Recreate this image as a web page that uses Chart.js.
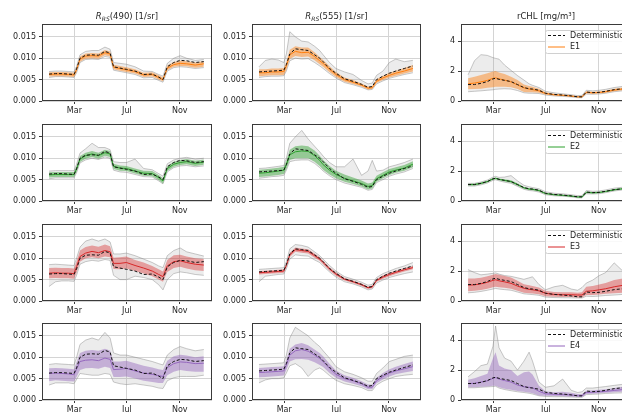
<!DOCTYPE html>
<html>
<head>
<meta charset="utf-8">
<script src="https://cdn.jsdelivr.net/npm/chart.js@4"></script>
<style>
  html, body { margin: 0; padding: 0; background: #fff; overflow: hidden; width: 622px; height: 412px; }
  .panel { position: absolute; }
</style>
</head>
<body>
<script>
// day of year for every sample
const G = [0, 15, 30, 45, 58, 64, 72, 85, 100, 115, 130, 142, 150, 165, 180, 200, 220, 240, 255, 265, 275, 290, 305, 320, 340, 360];
const monthTicks = [59, 181, 304];
const monthLabels = ['Mar', 'Jul', 'Nov'];
const rrsTicks = [0, 0.005, 0.010, 0.015];
const chlTicks = [0, 2, 4];

// deterministic runs
const det490 = [0.0063,0.0064,0.0064,0.0063,0.0062,0.0075,0.0100,0.0107,0.0108,0.0107,0.0116,0.0112,0.0080,0.0077,0.0074,0.0070,0.0062,0.0063,0.0056,0.0050,0.0080,0.0090,0.0095,0.0094,0.0090,0.0092];
const det555 = [0.0068,0.0069,0.0070,0.0071,0.0072,0.0085,0.0110,0.0122,0.0120,0.0118,0.0108,0.0100,0.0092,0.0076,0.0065,0.0052,0.0046,0.0039,0.0032,0.0034,0.0050,0.0058,0.0065,0.0070,0.0076,0.0082];
const detChl = [1.10,1.10,1.18,1.30,1.48,1.52,1.45,1.38,1.30,1.10,0.90,0.82,0.80,0.72,0.52,0.44,0.40,0.34,0.28,0.28,0.60,0.56,0.58,0.65,0.76,0.82];

// Rrs(490) ensembles
const r490E1Mean = [0.0062,0.0063,0.0063,0.0062,0.0061,0.0073,0.0098,0.0105,0.0106,0.0105,0.0113,0.0110,0.0079,0.0076,0.0073,0.0069,0.0061,0.0062,0.0055,0.0050,0.0077,0.0085,0.0088,0.0087,0.0084,0.0087];
const r490E1Lo   = [0.0057,0.0058,0.0058,0.0057,0.0056,0.0068,0.0092,0.0099,0.0100,0.0099,0.0107,0.0104,0.0074,0.0071,0.0068,0.0064,0.0056,0.0057,0.0050,0.0046,0.0072,0.0080,0.0082,0.0081,0.0078,0.0080];
const r490E1Hi   = [0.0067,0.0068,0.0068,0.0067,0.0066,0.0078,0.0104,0.0111,0.0112,0.0111,0.0119,0.0116,0.0085,0.0082,0.0079,0.0074,0.0066,0.0067,0.0060,0.0055,0.0083,0.0091,0.0094,0.0093,0.0090,0.0093];
const r490E1GLo  = [0.0055,0.0057,0.0057,0.0056,0.0055,0.0066,0.0090,0.0097,0.0098,0.0097,0.0104,0.0102,0.0072,0.0069,0.0066,0.0062,0.0054,0.0055,0.0048,0.0044,0.0070,0.0078,0.0080,0.0079,0.0076,0.0078];
const r490E1GHi  = [0.0069,0.0070,0.0070,0.0069,0.0068,0.0081,0.0108,0.0116,0.0118,0.0118,0.0126,0.0121,0.0090,0.0088,0.0086,0.0080,0.0070,0.0069,0.0062,0.0058,0.0088,0.0100,0.0106,0.0100,0.0095,0.0097];

const r490E2Mean = [0.0061,0.0062,0.0062,0.0062,0.0062,0.0075,0.0098,0.0106,0.0110,0.0106,0.0113,0.0110,0.0081,0.0077,0.0076,0.0070,0.0065,0.0064,0.0055,0.0047,0.0076,0.0086,0.0090,0.0092,0.0088,0.0091];
const r490E2Lo   = [0.0055,0.0056,0.0056,0.0056,0.0056,0.0068,0.0091,0.0099,0.0103,0.0099,0.0106,0.0103,0.0075,0.0071,0.0070,0.0064,0.0059,0.0058,0.0049,0.0041,0.0070,0.0080,0.0084,0.0086,0.0082,0.0085];
const r490E2Hi   = [0.0067,0.0068,0.0068,0.0068,0.0068,0.0082,0.0105,0.0113,0.0117,0.0113,0.0120,0.0117,0.0087,0.0083,0.0082,0.0076,0.0071,0.0070,0.0061,0.0053,0.0082,0.0092,0.0096,0.0098,0.0094,0.0097];
const r490E2GLo  = [0.0052,0.0054,0.0054,0.0054,0.0054,0.0066,0.0089,0.0096,0.0100,0.0097,0.0103,0.0100,0.0072,0.0068,0.0067,0.0062,0.0057,0.0056,0.0047,0.0040,0.0068,0.0078,0.0082,0.0083,0.0080,0.0082];
const r490E2GHi  = [0.0070,0.0071,0.0071,0.0071,0.0071,0.0086,0.0112,0.0122,0.0135,0.0125,0.0125,0.0120,0.0092,0.0090,0.0090,0.0098,0.0076,0.0073,0.0064,0.0058,0.0087,0.0096,0.0100,0.0102,0.0098,0.0100];

const r490E3Mean = [0.0065,0.0066,0.0065,0.0065,0.0064,0.0080,0.0104,0.0112,0.0116,0.0113,0.0118,0.0115,0.0088,0.0088,0.0090,0.0083,0.0077,0.0070,0.0062,0.0057,0.0082,0.0092,0.0094,0.0090,0.0086,0.0084];
const r490E3Lo   = [0.0053,0.0054,0.0053,0.0053,0.0052,0.0066,0.0092,0.0100,0.0102,0.0100,0.0104,0.0102,0.0075,0.0074,0.0076,0.0070,0.0064,0.0058,0.0050,0.0045,0.0068,0.0077,0.0080,0.0076,0.0072,0.0070];
const r490E3Hi   = [0.0077,0.0078,0.0077,0.0077,0.0076,0.0093,0.0118,0.0126,0.0130,0.0127,0.0132,0.0128,0.0101,0.0102,0.0104,0.0096,0.0090,0.0082,0.0074,0.0069,0.0096,0.0107,0.0108,0.0104,0.0100,0.0098];
const r490E3GLo  = [0.0034,0.0045,0.0047,0.0047,0.0046,0.0060,0.0086,0.0092,0.0095,0.0093,0.0097,0.0095,0.0060,0.0050,0.0050,0.0058,0.0055,0.0050,0.0038,0.0026,0.0050,0.0064,0.0068,0.0066,0.0062,0.0060];
const r490E3GHi  = [0.0085,0.0086,0.0085,0.0084,0.0083,0.0100,0.0126,0.0140,0.0145,0.0140,0.0145,0.0138,0.0110,0.0110,0.0112,0.0106,0.0098,0.0090,0.0082,0.0078,0.0106,0.0118,0.0124,0.0115,0.0110,0.0105];

const r490E4Mean = [0.0062,0.0063,0.0062,0.0061,0.0059,0.0072,0.0090,0.0093,0.0094,0.0092,0.0098,0.0095,0.0071,0.0072,0.0074,0.0068,0.0063,0.0060,0.0057,0.0055,0.0076,0.0085,0.0089,0.0088,0.0085,0.0086];
const r490E4Lo   = [0.0044,0.0046,0.0045,0.0044,0.0043,0.0054,0.0070,0.0074,0.0075,0.0073,0.0078,0.0075,0.0054,0.0054,0.0055,0.0050,0.0045,0.0042,0.0040,0.0040,0.0058,0.0066,0.0070,0.0068,0.0066,0.0066];
const r490E4Hi   = [0.0074,0.0075,0.0074,0.0073,0.0072,0.0088,0.0110,0.0115,0.0117,0.0115,0.0120,0.0116,0.0090,0.0090,0.0092,0.0086,0.0080,0.0076,0.0072,0.0070,0.0092,0.0102,0.0106,0.0104,0.0100,0.0102];
const r490E4GLo  = [0.0035,0.0040,0.0040,0.0040,0.0038,0.0048,0.0062,0.0060,0.0058,0.0058,0.0062,0.0060,0.0042,0.0038,0.0036,0.0038,0.0035,0.0032,0.0028,0.0027,0.0045,0.0052,0.0055,0.0055,0.0055,0.0058];
const r490E4GHi  = [0.0083,0.0085,0.0084,0.0083,0.0082,0.0100,0.0130,0.0140,0.0145,0.0140,0.0158,0.0145,0.0110,0.0105,0.0105,0.0100,0.0095,0.0090,0.0085,0.0082,0.0105,0.0118,0.0125,0.0120,0.0115,0.0118];

// Rrs(555) ensembles
const r555E1Mean = [0.0066,0.0066,0.0068,0.0068,0.0069,0.0082,0.0108,0.0116,0.0113,0.0114,0.0104,0.0094,0.0088,0.0074,0.0062,0.0050,0.0044,0.0037,0.0030,0.0031,0.0046,0.0054,0.0060,0.0065,0.0070,0.0076];
const r555E1Lo   = [0.0058,0.0059,0.0060,0.0060,0.0061,0.0073,0.0098,0.0105,0.0103,0.0104,0.0095,0.0086,0.0080,0.0067,0.0056,0.0045,0.0040,0.0034,0.0027,0.0028,0.0042,0.0049,0.0055,0.0059,0.0064,0.0069];
const r555E1Hi   = [0.0074,0.0074,0.0076,0.0076,0.0077,0.0091,0.0120,0.0128,0.0125,0.0125,0.0114,0.0103,0.0096,0.0081,0.0068,0.0055,0.0049,0.0041,0.0034,0.0035,0.0051,0.0059,0.0066,0.0071,0.0077,0.0084];
const r555E1GLo  = [0.0055,0.0057,0.0058,0.0058,0.0059,0.0070,0.0094,0.0100,0.0098,0.0099,0.0090,0.0082,0.0076,0.0064,0.0054,0.0043,0.0038,0.0032,0.0026,0.0027,0.0040,0.0047,0.0053,0.0057,0.0062,0.0066];
const r555E1GHi  = [0.0080,0.0095,0.0098,0.0096,0.0090,0.0110,0.0162,0.0150,0.0140,0.0138,0.0128,0.0118,0.0108,0.0090,0.0076,0.0068,0.0062,0.0048,0.0040,0.0042,0.0060,0.0070,0.0090,0.0098,0.0092,0.0095];

const r555E2Mean = [0.0065,0.0066,0.0068,0.0070,0.0072,0.0085,0.0108,0.0115,0.0117,0.0116,0.0106,0.0095,0.0085,0.0072,0.0062,0.0053,0.0047,0.0041,0.0034,0.0036,0.0052,0.0060,0.0068,0.0072,0.0077,0.0086];
const r555E2Lo   = [0.0056,0.0057,0.0059,0.0061,0.0063,0.0075,0.0096,0.0100,0.0100,0.0100,0.0092,0.0082,0.0073,0.0062,0.0053,0.0045,0.0040,0.0034,0.0027,0.0029,0.0045,0.0053,0.0061,0.0066,0.0071,0.0079];
const r555E2Hi   = [0.0073,0.0074,0.0076,0.0078,0.0080,0.0094,0.0120,0.0128,0.0130,0.0128,0.0118,0.0106,0.0096,0.0082,0.0071,0.0062,0.0055,0.0048,0.0041,0.0043,0.0059,0.0067,0.0075,0.0079,0.0084,0.0093];
const r555E2GLo  = [0.0053,0.0055,0.0057,0.0058,0.0060,0.0072,0.0092,0.0095,0.0096,0.0096,0.0088,0.0078,0.0070,0.0059,0.0050,0.0042,0.0037,0.0032,0.0025,0.0027,0.0043,0.0050,0.0058,0.0063,0.0068,0.0076];
const r555E2GHi  = [0.0076,0.0077,0.0079,0.0081,0.0083,0.0100,0.0135,0.0150,0.0165,0.0145,0.0128,0.0115,0.0105,0.0090,0.0080,0.0080,0.0098,0.0060,0.0070,0.0095,0.0070,0.0072,0.0080,0.0084,0.0090,0.0098];

const r555E3Mean = [0.0066,0.0067,0.0068,0.0069,0.0070,0.0083,0.0108,0.0120,0.0118,0.0116,0.0106,0.0098,0.0090,0.0075,0.0063,0.0051,0.0045,0.0038,0.0031,0.0033,0.0048,0.0056,0.0062,0.0067,0.0073,0.0078];
const r555E3Lo   = [0.0062,0.0063,0.0064,0.0065,0.0066,0.0079,0.0103,0.0115,0.0113,0.0111,0.0101,0.0094,0.0086,0.0071,0.0059,0.0048,0.0042,0.0035,0.0028,0.0030,0.0045,0.0052,0.0058,0.0063,0.0069,0.0074];
const r555E3Hi   = [0.0070,0.0071,0.0072,0.0073,0.0074,0.0087,0.0113,0.0125,0.0123,0.0121,0.0111,0.0102,0.0094,0.0079,0.0067,0.0054,0.0048,0.0041,0.0034,0.0036,0.0051,0.0060,0.0066,0.0071,0.0077,0.0082];
const r555E3GLo  = [0.0045,0.0058,0.0060,0.0062,0.0063,0.0075,0.0098,0.0108,0.0106,0.0105,0.0096,0.0090,0.0082,0.0068,0.0056,0.0045,0.0040,0.0033,0.0026,0.0028,0.0042,0.0049,0.0055,0.0059,0.0064,0.0068];
const r555E3GHi  = [0.0074,0.0075,0.0076,0.0077,0.0078,0.0092,0.0122,0.0132,0.0130,0.0126,0.0115,0.0106,0.0098,0.0083,0.0070,0.0057,0.0051,0.0044,0.0037,0.0039,0.0055,0.0064,0.0070,0.0076,0.0082,0.0090];

const r555E4Mean = [0.0064,0.0065,0.0066,0.0067,0.0068,0.0082,0.0105,0.0115,0.0118,0.0114,0.0105,0.0097,0.0090,0.0074,0.0060,0.0050,0.0045,0.0038,0.0030,0.0030,0.0045,0.0055,0.0063,0.0068,0.0073,0.0078];
const r555E4Lo   = [0.0053,0.0054,0.0055,0.0056,0.0057,0.0070,0.0090,0.0095,0.0096,0.0094,0.0088,0.0082,0.0077,0.0063,0.0052,0.0043,0.0038,0.0032,0.0025,0.0025,0.0039,0.0048,0.0055,0.0060,0.0064,0.0068];
const r555E4Hi   = [0.0075,0.0076,0.0077,0.0078,0.0079,0.0094,0.0120,0.0130,0.0133,0.0128,0.0118,0.0110,0.0102,0.0085,0.0069,0.0058,0.0052,0.0044,0.0036,0.0036,0.0052,0.0063,0.0072,0.0078,0.0084,0.0090];
const r555E4GLo  = [0.0040,0.0047,0.0050,0.0050,0.0052,0.0063,0.0080,0.0085,0.0075,0.0055,0.0070,0.0075,0.0070,0.0057,0.0046,0.0038,0.0034,0.0029,0.0022,0.0022,0.0035,0.0044,0.0050,0.0055,0.0058,0.0060];
const r555E4GHi  = [0.0083,0.0084,0.0085,0.0086,0.0087,0.0105,0.0145,0.0170,0.0160,0.0150,0.0135,0.0125,0.0115,0.0098,0.0078,0.0066,0.0060,0.0052,0.0044,0.0044,0.0062,0.0075,0.0090,0.0095,0.0102,0.0105];

// rCHL ensembles
const chlE1Mean = [1.15,1.20,1.28,1.38,1.52,1.55,1.48,1.40,1.28,1.08,0.88,0.80,0.76,0.68,0.50,0.42,0.38,0.33,0.28,0.28,0.58,0.55,0.57,0.62,0.73,0.80];
const chlE1Lo   = [0.78,0.80,0.82,0.88,0.92,0.95,0.95,0.95,0.92,0.80,0.60,0.58,0.58,0.55,0.43,0.37,0.34,0.29,0.24,0.24,0.50,0.48,0.50,0.55,0.65,0.72];
const chlE1Hi   = [1.52,1.62,1.74,1.85,1.97,2.00,1.90,1.80,1.63,1.40,1.10,1.00,0.95,0.82,0.58,0.48,0.43,0.38,0.32,0.33,0.66,0.62,0.64,0.70,0.82,0.90];
const chlE1GLo  = [0.62,0.65,0.68,0.72,0.75,0.78,0.80,0.82,0.80,0.70,0.55,0.52,0.52,0.50,0.40,0.34,0.31,0.27,0.22,0.22,0.46,0.45,0.47,0.52,0.62,0.68];
const chlE1GHi  = [1.75,2.70,3.10,3.05,2.90,2.85,2.80,2.40,2.05,1.70,1.40,1.15,1.05,0.90,0.65,0.55,0.48,0.42,0.36,0.38,0.72,0.68,0.72,0.78,0.90,0.98];

const chlE2Mean = [1.10,1.10,1.18,1.30,1.48,1.52,1.45,1.38,1.30,1.10,0.88,0.80,0.78,0.70,0.50,0.42,0.38,0.33,0.27,0.27,0.58,0.55,0.57,0.64,0.75,0.82];
const chlE2Lo   = [1.04,1.04,1.12,1.24,1.42,1.46,1.39,1.30,1.22,1.02,0.82,0.74,0.72,0.64,0.45,0.38,0.34,0.29,0.23,0.23,0.52,0.50,0.52,0.59,0.70,0.77];
const chlE2Hi   = [1.16,1.16,1.24,1.36,1.54,1.58,1.51,1.46,1.38,1.18,0.94,0.86,0.84,0.76,0.55,0.46,0.42,0.37,0.31,0.31,0.64,0.60,0.62,0.69,0.80,0.87];
const chlE2GLo  = [1.00,1.00,1.08,1.20,1.38,1.42,1.35,1.26,1.18,0.98,0.78,0.70,0.68,0.60,0.42,0.35,0.32,0.27,0.21,0.21,0.48,0.47,0.49,0.56,0.67,0.74];
const chlE2GHi  = [1.18,1.18,1.27,1.40,1.60,1.65,1.58,1.60,1.70,1.35,1.05,0.95,0.90,0.82,0.62,0.52,0.48,0.42,0.36,0.36,0.70,0.65,0.67,0.74,0.86,0.92];

const chlE3Mean = [1.06,1.08,1.15,1.25,1.38,1.42,1.35,1.28,1.18,1.00,0.85,0.78,0.75,0.68,0.52,0.44,0.42,0.42,0.40,0.40,0.65,0.68,0.75,0.82,0.95,1.05];
const chlE3Lo   = [0.65,0.68,0.74,0.82,0.92,0.96,0.92,0.88,0.82,0.68,0.55,0.52,0.50,0.45,0.32,0.28,0.26,0.26,0.24,0.24,0.40,0.40,0.44,0.48,0.52,0.56];
const chlE3Hi   = [1.50,1.50,1.56,1.65,1.75,1.80,1.75,1.68,1.58,1.35,1.12,1.05,1.00,0.90,0.68,0.60,0.58,0.58,0.56,0.58,0.95,1.00,1.10,1.20,1.40,1.50];
const chlE3GLo  = [0.55,0.58,0.64,0.72,0.80,0.84,0.80,0.76,0.72,0.60,0.48,0.45,0.43,0.38,0.26,0.23,0.22,0.21,0.20,0.20,0.32,0.30,0.33,0.37,0.40,0.44];
const chlE3GHi  = [2.10,1.90,1.75,1.80,1.85,1.88,1.80,1.70,1.65,1.55,1.45,1.55,1.62,1.10,0.75,0.95,1.05,0.80,0.72,0.90,1.20,1.40,1.70,1.90,2.55,2.00];

const chlE4Mean = [1.10,1.12,1.20,1.28,1.45,1.50,1.40,1.30,1.20,1.00,0.88,0.85,0.82,0.58,0.42,0.38,0.36,0.34,0.28,0.27,0.50,0.52,0.55,0.58,0.64,0.70];
const chlE4Lo   = [0.85,0.85,0.88,0.90,0.95,0.95,0.85,0.75,0.68,0.60,0.55,0.50,0.45,0.30,0.28,0.26,0.25,0.22,0.20,0.20,0.40,0.42,0.45,0.48,0.52,0.55];
const chlE4Hi   = [1.35,1.45,1.60,1.75,2.80,3.20,2.30,2.10,2.00,1.60,1.85,1.90,1.70,0.95,0.58,0.52,0.55,0.48,0.40,0.40,0.62,0.65,0.68,0.72,0.80,0.88];
const chlE4GLo  = [0.82,0.82,0.85,0.88,0.90,0.92,0.80,0.70,0.62,0.55,0.50,0.45,0.40,0.28,0.24,0.22,0.22,0.20,0.18,0.18,0.36,0.38,0.40,0.44,0.46,0.48];
const chlE4GHi  = [1.55,1.90,2.30,2.40,3.60,4.95,3.50,2.80,2.60,2.00,2.60,3.20,2.60,1.20,0.85,0.95,1.40,0.65,0.50,0.55,0.80,0.80,0.85,0.90,0.98,1.05];

const ensNames = ['E1', 'E2', 'E3', 'E4'];
const ensColors = ['#ff7f0e', '#2ca02c', '#d62728', '#9467bd'];
const ensFills = ['rgba(255,127,14,0.45)', 'rgba(44,160,44,0.45)', 'rgba(214,39,40,0.4)', 'rgba(148,103,189,0.45)'];

// layout (px)
const colLeft = [42, 252, 461];
const colWidth = [170, 169, 170];
const rowTop = [24, 124, 224, 323];
const plotH = 77;
const AXW = 45, PADT = 20, AXH = 20, PADR = 6;
const FONT = '"DejaVu Sans", sans-serif';

const columns = [
  { det: det490, ticks: rrsTicks, max: 0.018, fmt: v => v.toFixed(3),
    title: [{ t: 'R', it: true }, { t: 'RS', it: true, sub: true }, { t: '(490) [1/sr]' }],
    ens: [
      [r490E1Mean, r490E1Lo, r490E1Hi, r490E1GLo, r490E1GHi],
      [r490E2Mean, r490E2Lo, r490E2Hi, r490E2GLo, r490E2GHi],
      [r490E3Mean, r490E3Lo, r490E3Hi, r490E3GLo, r490E3GHi],
      [r490E4Mean, r490E4Lo, r490E4Hi, r490E4GLo, r490E4GHi]] },
  { det: det555, ticks: rrsTicks, max: 0.018, fmt: v => v.toFixed(3),
    title: [{ t: 'R', it: true }, { t: 'RS', it: true, sub: true }, { t: '(555) [1/sr]' }],
    ens: [
      [r555E1Mean, r555E1Lo, r555E1Hi, r555E1GLo, r555E1GHi],
      [r555E2Mean, r555E2Lo, r555E2Hi, r555E2GLo, r555E2GHi],
      [r555E3Mean, r555E3Lo, r555E3Hi, r555E3GLo, r555E3GHi],
      [r555E4Mean, r555E4Lo, r555E4Hi, r555E4GLo, r555E4GHi]] },
  { det: detChl, ticks: chlTicks, max: 5.15, fmt: v => String(v), legend: true,
    title: [{ t: 'rCHL [mg/m³]' }],
    ens: [
      [chlE1Mean, chlE1Lo, chlE1Hi, chlE1GLo, chlE1GHi],
      [chlE2Mean, chlE2Lo, chlE2Hi, chlE2GLo, chlE2GHi],
      [chlE3Mean, chlE3Lo, chlE3Hi, chlE3GLo, chlE3GHi],
      [chlE4Mean, chlE4Lo, chlE4Hi, chlE4GLo, chlE4GHi]] }
];

function pts(arr) {
  return G.map((d, i) => ({ x: d, y: arr[i] }));
}

function makePanel(col, row) {
  const c = columns[col];
  const [mean, lo, hi, glo, ghi] = c.ens[row];
  const W = AXW + colWidth[col] + PADR;
  const H = PADT + plotH + AXH;
  const div = document.createElement('div');
  div.className = 'panel';
  div.style.left = (colLeft[col] - AXW) + 'px';
  div.style.top = (rowTop[row] - PADT) + 'px';
  const cv = document.createElement('canvas');
  cv.width = W; cv.height = H;
  cv.style.width = W + 'px'; cv.style.height = H + 'px';
  div.appendChild(cv);
  document.body.appendChild(div);

  const gray = 'rgba(120,120,120,0.5)';
  const deco = {
    id: 'deco',
    afterDatasetsDraw(chart) {
      const ctx = chart.ctx, a = chart.chartArea;
      ctx.save();
      ctx.strokeStyle = '#3a3a3a';
      ctx.lineWidth = 1;
      ctx.strokeRect(Math.round(a.left) + 0.5, Math.round(a.top) + 0.5,
        Math.round(a.right - a.left) - 1, Math.round(a.bottom - a.top) - 1);
      ctx.restore();
    },
    afterDraw(chart) {
      const ctx = chart.ctx, a = chart.chartArea;
      ctx.save();
      ctx.fillStyle = '#262626';
      if (row === 0) {
        let total = 0;
        const fonts = c.title.map(p => (p.it ? 'italic ' : '') + (p.sub ? '6px ' : '8.5px ') + FONT);
        const widths = c.title.map((p, i) => { ctx.font = fonts[i]; return ctx.measureText(p.t).width; });
        widths.forEach(w => total += w);
        let x = (a.left + a.right) / 2 - total / 2;
        ctx.textBaseline = 'alphabetic';
        c.title.forEach((p, i) => {
          ctx.font = fonts[i];
          ctx.fillText(p.t, x, a.top - 5.5 + (p.sub ? 2 : 0));
          x += widths[i];
        });
      }
      if (c.legend) {
        const bx = a.left + 84, by = a.top + 6;
        ctx.fillStyle = 'rgba(255,255,255,0.85)';
        ctx.strokeStyle = '#d0d0d0';
        ctx.lineWidth = 1;
        ctx.beginPath();
        ctx.roundRect(bx + 0.5, by + 0.5, 120, 23, 2);
        ctx.fill(); ctx.stroke();
        ctx.lineWidth = 1;
        ctx.strokeStyle = '#111';
        ctx.setLineDash([3, 2]);
        ctx.beginPath(); ctx.moveTo(bx + 3, by + 5.5); ctx.lineTo(bx + 20, by + 5.5); ctx.stroke();
        ctx.setLineDash([]);
        ctx.strokeStyle = ensColors[row];
        ctx.beginPath(); ctx.moveTo(bx + 3, by + 17); ctx.lineTo(bx + 20, by + 17); ctx.stroke();
        ctx.fillStyle = '#262626';
        ctx.font = '8px ' + FONT;
        ctx.textBaseline = 'middle';
        ctx.fillText('Deterministic', bx + 25, by + 5.5);
        ctx.fillText(ensNames[row], bx + 25, by + 17);
      }
      ctx.restore();
    }
  };

  new Chart(cv, {
    type: 'line',
    data: {
      datasets: [
        { data: pts(c.det), borderColor: '#111', borderWidth: 1, borderDash: [3, 2], order: 0 },
        { data: pts(mean), borderColor: ensColors[row], borderWidth: 1, order: 1 },
        { data: pts(hi), borderColor: 'rgba(0,0,0,0)', borderWidth: 0, backgroundColor: ensFills[row], fill: 3, order: 2 },
        { data: pts(lo), borderColor: 'rgba(0,0,0,0)', borderWidth: 0, order: 3 },
        { data: pts(ghi), borderColor: gray, borderWidth: 0.8, backgroundColor: 'rgba(150,150,150,0.18)', fill: 5, order: 4 },
        { data: pts(glo), borderColor: gray, borderWidth: 0.8, order: 5 }
      ]
    },
    options: {
      responsive: false,
      animation: false,
      events: [],
      layout: { padding: { top: PADT, right: PADR, left: 0, bottom: 0 } },
      elements: { point: { radius: 0 }, line: { tension: 0 } },
      plugins: { legend: { display: false }, tooltip: { enabled: false } },
      scales: {
        x: {
          type: 'linear', min: -16.4, max: 379,
          afterBuildTicks: s => { s.ticks = monthTicks.map(v => ({ value: v })); },
          afterFit: s => { s.height = AXH; },
          ticks: {
            autoSkip: false, maxRotation: 0, padding: 2, color: '#262626',
            font: { family: FONT, size: 8 },
            callback: v => monthLabels[monthTicks.indexOf(v)] || ''
          },
          grid: { color: '#d4d4d4', tickColor: '#3a3a3a', tickLength: 3 },
          border: { display: false }
        },
        y: {
          min: 0, max: c.max,
          afterBuildTicks: s => { s.ticks = c.ticks.map(v => ({ value: v })); },
          afterFit: s => { s.width = AXW; },
          ticks: {
            padding: 3, color: '#262626',
            font: { family: FONT, size: 8 },
            callback: v => c.fmt(v)
          },
          grid: { color: '#d4d4d4', tickColor: '#3a3a3a', tickLength: 3 },
          border: { display: false }
        }
      }
    },
    plugins: [deco]
  });
}

for (let row = 0; row < 4; row++) {
  for (let col = 0; col < 3; col++) {
    makePanel(col, row);
  }
}
</script>
</body>
</html>
